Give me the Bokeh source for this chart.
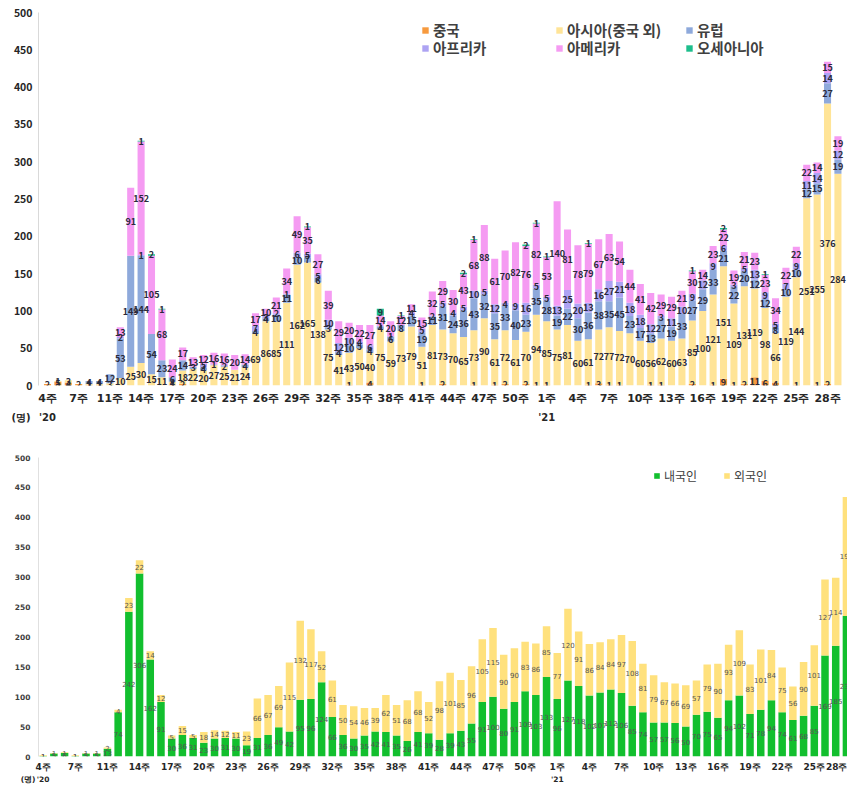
from bokeh.plotting import figure
from bokeh.models import (ColumnDataSource, Legend, LegendItem, FixedTicker, Range1d,
                          LinearAxis)
from bokeh.layouts import column
from bokeh.embed import file_html
from bokeh.resources import INLINE
from bokeh.core.properties import value

# ---- categories (week numbers) ----
weeks = [4, 5, 6, 7, 9, 10] + list(range(11, 53)) + list(range(1, 30))
years = ["20"] * 48 + ["21"] * 29

# ---- top chart: imported cases by region ----
china = [2, 5, 4, 2, 1, 1, 0, 0, 0, 0, 0, 0, 1, 2, 0, 0, 0, 0, 0, 0,
         0, 0, 0, 0, 0, 0, 0, 0, 0, 1, 0, 4, 0, 0, 0, 0, 1, 0, 2, 0,
         0, 1, 0, 1, 2, 0, 2, 1, 1, 0, 0, 0, 1, 3, 1, 1, 0, 0, 1, 1,
         0, 0, 2, 0, 1, 9, 1, 2, 11, 6, 4, 0, 1, 0, 1, 2, 0]
asia = [0, 1, 3, 0, 1, 1, 3, 10, 25, 30, 15, 11, 4, 18, 22, 20, 27, 25, 21, 24,
        69, 86, 85, 111, 162, 165, 138, 75, 41, 43, 50, 40, 75, 59, 73, 79, 51, 81, 73, 70,
        65, 73, 90, 61, 72, 61, 70, 94, 85, 75, 81, 60, 61, 72, 77, 72, 70, 60, 56, 62,
        60, 63, 85, 100, 121, 151, 109, 131, 119, 98, 66, 119, 144, 251, 255, 376, 284]
europe = [0, 0, 0, 0, 4, 4, 12, 53, 149, 144, 54, 23, 6, 14, 3, 4, 1, 2, 0, 4,
          4, 4, 10, 11, 10, 7, 6, 3, 4, 10, 5, 4, 4, 6, 8, 15, 19, 11, 31, 24,
          36, 43, 32, 35, 33, 40, 23, 35, 28, 19, 22, 30, 36, 38, 35, 45, 23, 17, 13, 27,
          19, 33, 27, 29, 33, 21, 22, 20, 12, 12, 8, 10, 10, 12, 15, 27, 19]
africa = [0, 0, 0, 0, 0, 0, 0, 2, 0, 1, 0, 0, 0, 0, 0, 5, 0, 0, 0, 0,
          7, 3, 2, 1, 6, 5, 5, 10, 12, 10, 4, 6, 1, 1, 0, 4, 5, 2, 5, 4,
          5, 10, 5, 12, 4, 9, 16, 5, 5, 13, 25, 20, 13, 16, 27, 21, 18, 18, 12, 3,
          11, 10, 9, 12, 9, 6, 3, 5, 13, 9, 5, 7, 9, 11, 14, 14, 12]
america = [0, 0, 0, 0, 0, 0, 0, 13, 91, 152, 105, 68, 24, 17, 13, 12, 16, 16, 20, 14,
           17, 10, 21, 34, 49, 35, 27, 39, 29, 20, 22, 27, 14, 20, 12, 11, 15, 32, 29, 30,
           43, 68, 88, 61, 70, 82, 76, 82, 53, 140, 81, 78, 79, 67, 63, 54, 44, 41, 42, 29,
           29, 21, 30, 14, 23, 22, 19, 21, 23, 23, 34, 22, 22, 22, 14, 15, 19]
oceania = [0, 0, 0, 0, 0, 0, 0, 0, 0, 1, 2, 1, 0, 0, 0, 0, 0, 0, 0, 0,
           0, 0, 0, 0, 0, 1, 0, 0, 0, 0, 0, 0, 9, 0, 1, 0, 0, 0, 0, 0,
           2, 1, 0, 0, 0, 0, 2, 1, 1, 0, 0, 0, 1, 0, 0, 0, 0, 0, 0, 0,
           0, 0, 1, 0, 0, 2, 0, 0, 0, 1, 0, 0, 0, 0, 0, 0, 0]

# ---- bottom chart: nationals / foreigners ----
domestic = [1, 5, 6, 1, 5, 5, 13, 74, 242, 306, 162, 91, 30, 36, 31, 23, 30, 31, 30, 19,
            31, 36, 49, 42, 95, 96, 124, 66, 36, 30, 35, 42, 41, 35, 26, 41, 39, 28, 39, 43,
            55, 91, 100, 80, 91, 109, 103, 133, 96, 127, 118, 102, 107, 112, 106, 85, 74, 57, 57, 56,
            50, 70, 75, 65, 94, 102, 71, 78, 94, 74, 61, 68, 85, 169, 185, 235]
foreign = [1, 1, 1, 1, 1, 1, 2, 4, 23, 22, 14, 12, 5, 15, 5, 18, 14, 12, 11, 23,
           66, 67, 69, 115, 132, 117, 52, 61, 50, 54, 46, 39, 62, 51, 68, 68, 52, 98, 101, 85,
           96, 105, 115, 90, 90, 83, 86, 85, 77, 120, 91, 86, 84, 84, 97, 108, 81, 79, 67, 66,
           69, 57, 79, 90, 93, 109, 83, 101, 84, 75, 56, 90, 101, 127, 114, 199]

top_names = ["중국", "아시아(중국 외)", "유럽", "아프리카", "아메리카", "오세아니아"]
top_colors = ["#F79A3E", "#FFE497", "#8EA9DB", "#ADA3F3", "#F59BF2", "#1DBE8C"]
bot_names = ["내국인", "외국인"]
bot_colors = ["#12BF2E", "#FFE17D"]
unit_label = "(명)"

KR = "Noto Sans CJK KR"
DV = "DejaVu Sans"
NB = "\u00a0"


def week_ticks():
    ticks, over = [], {}
    for i, w in enumerate(weeks):
        if i % 3 == 0:
            ticks.append(i)
            over[i] = f"{w}주"
    return ticks, over


def year_ticks(x0, n_pad):
    ticks, over = [x0], {x0: unit_label + NB * n_pad}
    seen = set()
    for i, yr in enumerate(years):
        if yr not in seen:
            seen.add(yr)
            ticks.append(i)
            over[i] = f"'{yr}"
    return ticks, over


def seg_labels(series_list, n):
    xs, ys, ts = [], [], []
    base = [0] * n
    for s in series_list:
        for i in range(n):
            v = s[i]
            if v > 0:
                xs.append(i)
                ys.append(base[i] + v / 2)
                ts.append(str(v))
            base[i] += v
    return dict(x=xs, y=ys, t=ts)


def style_xaxis(ax, font, size, standoff):
    ax.axis_line_color = None
    ax.major_tick_line_color = None
    ax.minor_tick_line_color = None
    ax.major_tick_out = 0
    ax.major_tick_in = 0
    ax.minor_tick_out = 0
    ax.minor_tick_in = 0
    ax.major_label_text_font = font
    ax.major_label_text_font_style = "bold"
    ax.major_label_text_font_size = size
    ax.major_label_text_color = "#262626"
    ax.major_label_standoff = standoff


def style_yaxis(ax, font, size, color, line_color, standoff):
    ax.ticker = FixedTicker(ticks=list(range(0, 501, 50)))
    ax.axis_line_color = line_color
    ax.major_tick_line_color = None
    ax.minor_tick_line_color = None
    ax.major_tick_out = 0
    ax.minor_tick_out = 0
    ax.major_label_text_font = font
    ax.major_label_text_font_style = "bold"
    ax.major_label_text_font_size = size
    ax.major_label_text_color = color
    ax.major_label_standoff = standoff


# ================= TOP FIGURE =================
n_top = len(china)
src_top = ColumnDataSource(dict(x=list(range(n_top)), china=china, asia=asia, europe=europe,
                                africa=africa, america=america, oceania=oceania))
keys = ["china", "asia", "europe", "africa", "america", "oceania"]

x0_top = -0.865
p1 = figure(width=847, height=425, output_backend="svg", toolbar_location=None,
            x_range=Range1d(x0_top, 76.92), y_range=Range1d(0, 500),
            min_border_left=38, min_border_right=0, min_border_top=12, min_border_bottom=35)
p1.outline_line_color = None
p1.xgrid.visible = False
p1.ygrid.visible = False
rs = p1.vbar_stack(keys, x="x", width=0.68, color=top_colors, line_color=None, source=src_top)

lab_top = ColumnDataSource(seg_labels([china, asia, europe, africa, america, oceania], n_top))
p1.text(x="x", y="y", text="t", source=lab_top, text_align="center", text_baseline="middle",
        text_font=value(KR), text_font_size="9px", text_font_style="bold", text_color="#2a2a3a")

t1, o1 = week_ticks()
p1.xaxis.ticker = FixedTicker(ticks=t1)
p1.xaxis.major_label_overrides = o1
style_xaxis(p1.xaxis[0], DV, "11px", 6)

ty, oy = year_ticks(x0_top, 10)
yax1 = LinearAxis(ticker=FixedTicker(ticks=ty), major_label_overrides=oy)
style_xaxis(yax1, DV, "10px", 4)
p1.add_layout(yax1, "below")

style_yaxis(p1.yaxis[0], KR, "10.5px", "#262626", "#d9d9d9", 6)

leg_pos = [(383, 345), (517, 345), (647, 345), (383, 327), (517, 327), (647, 327)]
for r, name, (lx, ly) in zip(rs, top_names, leg_pos):
    lg = Legend(items=[LegendItem(label=name, renderers=[r])], location=(lx, ly),
                padding=0, margin=0, border_line_color=None, background_fill_alpha=0,
                glyph_width=8, glyph_height=8, label_standoff=4, label_height=16,
                label_text_font=KR, label_text_font_size="14.5px", label_text_font_style="bold",
                label_text_color="#404040")
    p1.add_layout(lg)

# ================= BOTTOM FIGURE =================
n_bot = len(domestic)
src_bot = ColumnDataSource(dict(x=list(range(n_bot)), dom=domestic, forn=foreign))
x0_bot = -0.436
p2 = figure(width=847, height=361, output_backend="svg", toolbar_location=None,
            x_range=Range1d(x0_bot, 75.1), y_range=Range1d(0, 500),
            min_border_left=32, min_border_right=0, min_border_top=32, min_border_bottom=26)
p2.outline_line_color = None
p2.xgrid.visible = False
p2.ygrid.visible = False
rs2 = p2.vbar_stack(["dom", "forn"], x="x", width=0.7, color=bot_colors, line_color=None,
                    source=src_bot)
lab_bot = ColumnDataSource(seg_labels([domestic, foreign], n_bot))
p2.text(x="x", y="y", text="t", source=lab_bot, text_align="center", text_baseline="middle",
        text_font=value(DV), text_font_size="7px", text_color="#555555")

t2, o2 = week_ticks()
p2.xaxis.ticker = FixedTicker(ticks=t2)
p2.xaxis.major_label_overrides = o2
style_xaxis(p2.xaxis[0], DV, "9px", 5)

ty2, oy2 = year_ticks(x0_bot, 8)
yax2 = LinearAxis(ticker=FixedTicker(ticks=ty2), major_label_overrides=oy2)
style_xaxis(yax2, DV, "7.5px", 0)
p2.add_layout(yax2, "below")

style_yaxis(p2.yaxis[0], DV, "7.5px", "#404040", "#e0e0e0", 8)

for r, name, (lx, ly) in zip(rs2, bot_names, [(615, 272), (685, 272)]):
    lg = Legend(items=[LegendItem(label=name, renderers=[r])], location=(lx, ly),
                padding=0, margin=0, border_line_color=None, background_fill_alpha=0,
                glyph_width=7, glyph_height=7, label_standoff=4, label_height=16,
                label_text_font=KR, label_text_font_size="12px",
                label_text_color="#404040")
    p2.add_layout(lg)

layout = column(p1, p2)
open("out.html", "w").write(file_html(layout, INLINE))
